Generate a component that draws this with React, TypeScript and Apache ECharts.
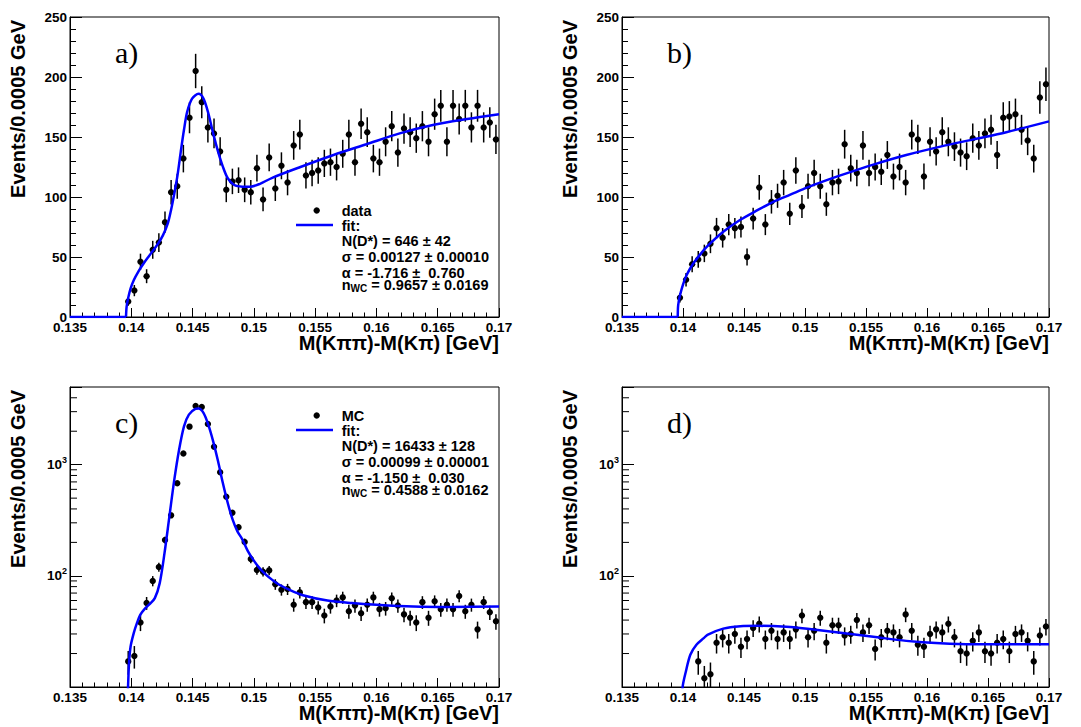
import React, { useEffect, useRef } from 'react';
import * as echarts from 'echarts';

// ---------------- data ----------------
const binCenters = [
  0.13975, 0.14025, 0.14075, 0.14125, 0.14175, 0.14225, 0.14275, 0.14325, 0.14375, 0.14425,
  0.14475, 0.14525, 0.14575, 0.14625, 0.14675, 0.14725, 0.14775, 0.14825, 0.14875, 0.14925,
  0.14975, 0.15025, 0.15075, 0.15125, 0.15175, 0.15225, 0.15275, 0.15325, 0.15375, 0.15425,
  0.15475, 0.15525, 0.15575, 0.15625, 0.15675, 0.15725, 0.15775, 0.15825, 0.15875, 0.15925,
  0.15975, 0.16025, 0.16075, 0.16125, 0.16175, 0.16225, 0.16275, 0.16325, 0.16375, 0.16425,
  0.16475, 0.16525, 0.16575, 0.16625, 0.16675, 0.16725, 0.16775, 0.16825, 0.16875, 0.16925,
  0.16975,
];

const dataA = [
  13, 22, 46, 34, 56, 62, 79, 104, 109, 132,
  166, 205, 179, 158, 153, 138, 106, 113, 114, 106,
  104, 124, 98, 133, 107, 126, 112, 143, 152, 118,
  120, 122, 128, 129, 125, 136, 152, 129, 161, 154,
  132, 129, 146, 159, 137, 157, 154, 149, 159, 146,
  169, 176, 146, 176, 165, 176, 158, 176, 158, 162,
  148,
];

const dataB = [
  16, 31, 44, 48, 53, 61, 74, 66, 77, 74,
  75, 50, 82, 108, 77, 96, 101, 112, 86, 122,
  92, 109, 120, 109, 94, 112, 113, 144, 124, 120,
  143, 120, 125, 121, 135, 117, 125, 112, 152, 148,
  117, 146, 138, 154, 146, 142, 137, 134, 149, 143,
  153, 156, 135, 166, 167, 169, 156, 147, 132, 183,
  194,
];

const dataC = [
  17, 19, 38, 57, 90, 120, 210, 350, 680, 1260,
  2200, 3380, 3300, 2320, 1450, 855, 515, 370, 274, 202,
  142, 113, 109, 112, 84, 75, 76, 55, 71, 58,
  58, 52, 44, 53, 60, 64, 48, 54, 46, 55,
  64, 50, 51, 63, 54, 45, 42, 38, 58, 42,
  59, 50, 55, 50, 66, 48, 55, 33, 58, 47,
  39,
];

// panel d starts at the 4th bin (lower bins are below the axis range)
const dataDStart = 3;
const dataD = [
  17, 12, 13, 25, 28, 25, 30, 23, 27, 34,
  37, 27, 32, 27, 31, 27, 33, 44, 28, 32,
  42, 25, 36, 36, 29, 30, 40, 31, 36, 22,
  28, 32, 31, 28, 45, 32, 24, 23, 30, 33,
  31, 37, 28, 21, 20, 26, 31, 21, 20, 25,
  27, 21, 30, 31, 26, 17, 29, 35,
];

// fit curves: [x, y]
const threshold = 0.13957;
const fitA = [
  [0.13957, 0], [0.13962, 8.6], [0.13975, 16], [0.13994, 23.6], [0.1402, 30.6],
  [0.1406, 38.3], [0.14099, 44.4], [0.14139, 50], [0.14179, 55.6], [0.14218, 61],
  [0.14258, 68], [0.14298, 78], [0.14324, 89], [0.14351, 103], [0.14377, 118],
  [0.14404, 138], [0.1443, 156], [0.14456, 171], [0.14496, 182], [0.14549, 186],
  [0.14589, 182], [0.14628, 170], [0.14668, 153], [0.14708, 137.8], [0.14747, 125.3],
  [0.14787, 115.6], [0.1484, 110], [0.14906, 108.6], [0.1497, 108.5], [0.1505, 111],
  [0.1515, 116], [0.1538, 125], [0.1565, 135], [0.1592, 144], [0.1619, 153],
  [0.1646, 160], [0.1674, 165], [0.17, 169],
];
const fitB = [
  [0.13957, 0], [0.13959, 8], [0.13965, 13], [0.13975, 18], [0.14, 27],
  [0.1403, 35], [0.1408, 44], [0.1414, 52], [0.142, 59], [0.1433, 71],
  [0.1447, 81], [0.1461, 89], [0.1474, 96], [0.1488, 102], [0.1502, 108],
  [0.1515, 113], [0.1529, 118], [0.1556, 127], [0.1583, 135], [0.1611, 142],
  [0.1638, 148], [0.1665, 154], [0.17, 163],
];
const fitC = [
  [0.13965, 5], [0.1398, 15.2], [0.13994, 23], [0.1402, 30.5], [0.14046, 37.5],
  [0.14073, 44.6], [0.14113, 51], [0.14152, 56], [0.14192, 63], [0.14232, 86],
  [0.14271, 160], [0.14311, 343], [0.14351, 733], [0.1439, 1365], [0.1443, 2213],
  [0.1447, 2820], [0.14523, 3174], [0.14549, 3200], [0.14589, 2924], [0.14628, 2292],
  [0.14668, 1622], [0.14708, 1072], [0.14747, 684], [0.14787, 452], [0.14827, 320],
  [0.14866, 251], [0.14906, 213], [0.1495, 168], [0.15, 137], [0.1505, 116],
  [0.151, 102], [0.1515, 92], [0.152, 84], [0.153, 74], [0.154, 67],
  [0.156, 60], [0.158, 57], [0.16, 55], [0.163, 53], [0.166, 52.5], [0.17, 53],
];
const fitD = [
  [0.13985, 5], [0.13997, 10], [0.14025, 14], [0.1406, 19.5], [0.1411, 24],
  [0.1417, 27.5], [0.142, 29.5], [0.1433, 33.5], [0.1447, 35.2], [0.1461, 35.5],
  [0.1474, 35.3], [0.1488, 34.6], [0.1502, 33.4], [0.1529, 30.8], [0.1556, 28.3],
  [0.1583, 26], [0.1611, 24.7], [0.1638, 24.2], [0.1665, 24.2], [0.17, 24.3],
];

const xTicks = { min: 0.135, max: 0.17, interval: 0.005 };
const yLinTicks = { min: 0, max: 250, interval: 50 };
const yLogRange = { min: 10, max: 5000 };
const logLabelled = [100, 1000];
const logMinorTicks = [20, 30, 40, 50, 60, 70, 80, 90, 200, 300, 400, 500, 600, 700, 800, 900, 2000, 3000, 4000];

const panelLetters = ['a)', 'b)', 'c)', 'd)'];
const legendA = ['data', 'fit:', 'N(D*) = 646 \u00b1 42', '\u03c3 = 0.00127 \u00b1 0.00010', '\u03b1 = -1.716 \u00b1  0.760', ' = 0.9657 \u00b1 0.0169'];
const legendC = ['MC', 'fit:', 'N(D*) = 16433 \u00b1 128', '\u03c3 = 0.00099 \u00b1 0.00001', '\u03b1 = -1.150 \u00b1  0.030', ' = 0.4588 \u00b1 0.0162'];
const xTitle = 'M(K\u03c0\u03c0)-M(K\u03c0) [GeV]';
const yTitle = 'Events/0.0005 GeV';

// ---------------- layout ----------------
const SANS = '"Liberation Sans", Arial, Helvetica, sans-serif';
const SERIF = '"Liberation Serif", "Times New Roman", serif';
const BLUE = '#0000ff';
const grids = [
  { left: 70, top: 17, width: 429, height: 300 },
  { left: 622, top: 17, width: 427, height: 300 },
  { left: 70, top: 387, width: 429, height: 300 },
  { left: 622, top: 387, width: 427, height: 300 },
];

function fmtX(v: number) {
  return String(parseFloat(v.toFixed(4)));
}

function errRender(params: any, api: any) {
  const x = api.value(0);
  const y = api.value(1);
  const e = api.value(2);
  const c = api.coord([x, y]);
  const lo = api.coord([x, Math.max(y - e, 0.5)]);
  const hi = api.coord([x, y + e]);
  return {
    type: 'group',
    children: [
      { type: 'line', shape: { x1: c[0], y1: lo[1], x2: c[0], y2: hi[1] }, style: { stroke: '#000', lineWidth: 1.5 } },
      { type: 'circle', shape: { cx: c[0], cy: c[1], r: 3.2 }, style: { fill: '#000' } },
    ],
  };
}

function minorRender(params: any, api: any) {
  const p = api.coord([xTicks.min, api.value(1)]);
  return { type: 'line', shape: { x1: p[0], y1: p[1], x2: p[0] + 7, y2: p[1] }, style: { stroke: '#000', lineWidth: 1 } };
}

function buildOption() {
  const labelFont = { color: '#000', fontFamily: SANS, fontWeight: 'bold', fontSize: 13.5, lineHeight: 14 };
  const xAxis = grids.map((g, i) => ({
    type: 'value', gridIndex: i, min: xTicks.min, max: xTicks.max, interval: xTicks.interval,
    axisLine: { show: true, onZero: false, lineStyle: { color: '#000', width: 1 } },
    axisTick: { show: true, inside: true, length: 9, lineStyle: { color: '#000', width: 1 } },
    minorTick: { show: true, splitNumber: 5, length: 4.5, lineStyle: { color: '#000', width: 1 } },
    splitLine: { show: false }, minorSplitLine: { show: false },
    axisLabel: { margin: 3, ...labelFont, formatter: fmtX, showMinLabel: true, showMaxLabel: true },
  }));
  const yAxis = grids.map((g, i) => {
    const base: any = {
      gridIndex: i,
      axisLine: { show: true, onZero: false, lineStyle: { color: '#000', width: 1 } },
      axisTick: { show: true, inside: true, length: 12, lineStyle: { color: '#000', width: 1 } },
      splitLine: { show: false }, minorSplitLine: { show: false },
    };
    if (i < 2) {
      return {
        ...base, type: 'value', min: yLinTicks.min, max: yLinTicks.max, interval: yLinTicks.interval,
        minorTick: { show: true, splitNumber: 5, length: 6, lineStyle: { color: '#000', width: 1 } },
        axisLabel: { margin: 3, ...labelFont, showMinLabel: true, showMaxLabel: true },
      };
    }
    return {
      ...base, type: 'log', logBase: 10, min: yLogRange.min, max: yLogRange.max,
      minorTick: { show: false },
      axisLabel: {
        margin: 3, color: '#000', showMinLabel: true, showMaxLabel: true,
        formatter: (v: number) => {
          const k = logLabelled.findIndex((t) => Math.abs(v - t) < 1e-6 * t);
          return k < 0 ? '' : '{b|10}{s|' + Math.round(Math.log10(logLabelled[k])) + '}';
        },
        rich: {
          b: { fontFamily: SANS, fontWeight: 'bold', fontSize: 13.5, lineHeight: 18, verticalAlign: 'middle', color: '#000' },
          s: { fontFamily: SANS, fontWeight: 'bold', fontSize: 9, lineHeight: 9, verticalAlign: 'top', color: '#000' },
        },
      },
    };
  });

  const panels = [
    { pts: dataA, start: 0, fit: fitA, flat: true },
    { pts: dataB, start: 0, fit: fitB, flat: true },
    { pts: dataC, start: 0, fit: fitC, flat: false },
    { pts: dataD, start: dataDStart, fit: fitD, flat: false },
  ];
  const series: any[] = [];
  panels.forEach((p, i) => {
    series.push({
      type: 'custom', xAxisIndex: i, yAxisIndex: i, clip: true, z: 3,
      dimensions: ['x', 'y', 'e'], encode: { x: 0, y: 1 },
      data: p.pts.map((v, k) => [binCenters[k + p.start], v, Math.sqrt(v)]),
      renderItem: errRender,
    });
    if (p.flat) {
      series.push({
        type: 'line', xAxisIndex: i, yAxisIndex: i, showSymbol: false, z: 4, silent: true,
        lineStyle: { color: BLUE, width: 2.5 },
        data: [[xTicks.min, 0], [threshold, 0]],
      });
    }
    series.push({
      type: 'line', xAxisIndex: i, yAxisIndex: i, showSymbol: false, z: 4, silent: true,
      smooth: 0.3, clip: true,
      lineStyle: { color: BLUE, width: 2.5 },
      data: p.fit,
    });
    if (i >= 2) {
      series.push({
        type: 'custom', xAxisIndex: i, yAxisIndex: i, clip: false, z: 5, silent: true,
        dimensions: ['x', 'y'], encode: { x: 0, y: 1 },
        data: logMinorTicks.map((v) => [xTicks.min, v]),
        renderItem: minorRender,
      });
    }
  });

  const graphic: any[] = [];
  grids.forEach((g, i) => {
    const right = g.left + g.width;
    const bottom = g.top + g.height;
    // panel letter
    graphic.push({
      type: 'text', x: g.left + 45, y: g.top + 35,
      style: { text: panelLetters[i], font: '30px ' + SERIF, fill: '#000', align: 'left', verticalAlign: 'middle', textAlign: 'left', textVerticalAlign: 'middle' },
    });
    // x title
    graphic.push({
      type: 'text', x: right, y: bottom + 26,
      style: { text: xTitle, font: 'bold 20px ' + SANS, lineHeight: 20, fill: '#000', align: 'right', verticalAlign: 'middle', textAlign: 'right', textVerticalAlign: 'middle' },
    });
    // y title
    graphic.push({
      type: 'text', x: g.left - 52, y: g.top + 3, rotation: Math.PI / 2,
      style: { text: yTitle, font: 'bold 20px ' + SANS, fill: '#000', align: 'right', verticalAlign: 'middle', textAlign: 'right', textVerticalAlign: 'middle' },
    });
  });

  const addLegend = (lines: string[], dy: number) => {
    const tx = 341.7;
    const ys = [210.5, 226, 240.5, 257, 272.5, 285];
    graphic.push({ type: 'circle', shape: { cx: 316.7, cy: 210.5 + dy, r: 3.2 }, style: { fill: '#000' } });
    graphic.push({ type: 'line', shape: { x1: 296, y1: 225 + dy, x2: 333, y2: 225 + dy }, style: { stroke: BLUE, lineWidth: 2.5 } });
    lines.forEach((t, k) => {
      if (k === 5) {
        graphic.push({
          type: 'text', x: tx, y: ys[k] + dy,
          style: {
            text: '{n|n}{s|WC}{n|' + t + '}', align: 'left', verticalAlign: 'middle', textAlign: 'left', textVerticalAlign: 'middle',
            rich: {
              n: { fontFamily: SANS, fontWeight: 'bold', fontSize: 14.5, lineHeight: 16, verticalAlign: 'top', fill: '#000', color: '#000' },
              s: { fontFamily: SANS, fontWeight: 'bold', fontSize: 10, lineHeight: 10, verticalAlign: 'bottom', fill: '#000', color: '#000' },
            },
          },
        });
      } else {
        graphic.push({
          type: 'text', x: tx, y: ys[k] + dy,
          style: { text: t, font: 'bold 14.5px ' + SANS, fill: '#000', align: 'left', verticalAlign: 'middle', textAlign: 'left', textVerticalAlign: 'middle' },
        });
      }
    });
  };
  addLegend(legendA, 0);
  addLegend(legendC, 205);

  return {
    animation: false,
    backgroundColor: '#ffffff',
    grid: grids.map((g) => ({ ...g, show: true, borderColor: '#000', borderWidth: 1, backgroundColor: 'rgba(0,0,0,0)', containLabel: false })),
    xAxis,
    yAxis,
    series,
    graphic,
  };
}

export default function App() {
  const ref = useRef<HTMLDivElement>(null);
  useEffect(() => {
    document.body.style.margin = '0';
    const chart = echarts.init(ref.current!, undefined, { renderer: 'svg' });
    chart.setOption(buildOption() as any);
    return () => chart.dispose();
  }, []);
  return <div ref={ref} style={{ position: 'absolute', left: 0, top: 0, width: 1081, height: 727, background: '#fff' }} />;
}
